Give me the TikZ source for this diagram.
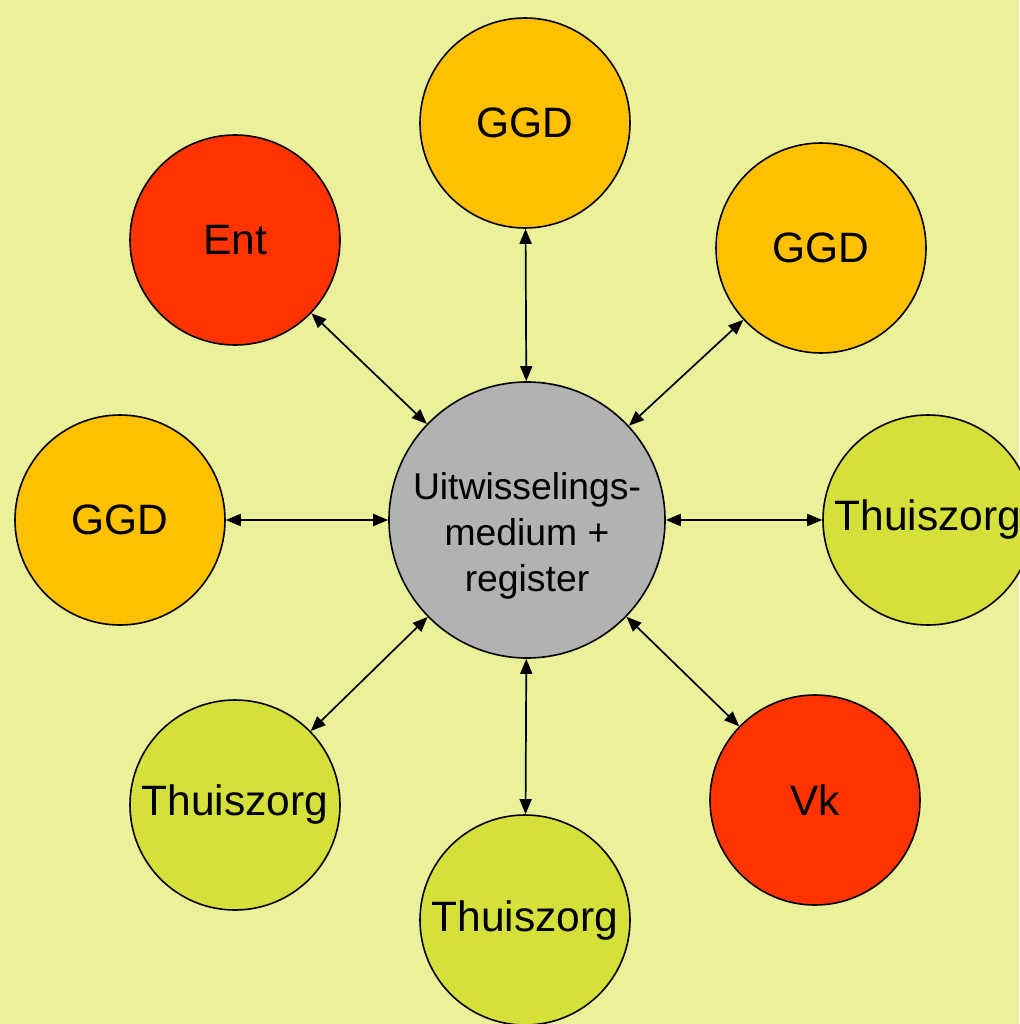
\documentclass[tikz,border=0pt]{standalone}
\usepackage{fontspec}
\setmainfont{Liberation Sans}
\usetikzlibrary{arrows.meta}
\definecolor{bgyellow}{RGB}{235,240,155}
\definecolor{ggdorange}{RGB}{255,192,0}
\definecolor{alertred}{RGB}{255,51,0}
\definecolor{zorggreen}{RGB}{214,224,58}
\definecolor{hubgray}{RGB}{178,178,178}

\begin{document}
\begin{tikzpicture}[x=1pt, y=-1pt,
  party/.style={circle, draw, line width=1.6pt, minimum size=210pt, inner sep=0pt, font=\fontsize{42.5}{46}\selectfont},
  hub/.style={circle, draw, line width=1.6pt, minimum size=276pt, inner sep=0pt, fill=hubgray},
  hubtext/.style={align=center, inner sep=0pt, font=\fontsize{37.3}{46}\selectfont},
  link/.style={line width=1.7pt, {Triangle[length=15pt,width=12pt]}-{Triangle[length=15pt,width=12pt]}}]
\fill[bgyellow] (0,0) rectangle (1019,1024);
\useasboundingbox (0,0) rectangle (1019,1024);
\node[hub] (medium) at (527,520) {};
\node[hubtext] (mediumlabel) at ([yshift=-16pt]medium.center) {Uitwisselings-\\medium +\\register};
\node[party, fill=ggdorange] (ggdtop) at (525,123) {GGD};
\node[party, fill=ggdorange] (ggdright) at (821,248) {GGD};
\node[party, fill=alertred] (ent) at (235,240) {Ent};
\node[party, fill=ggdorange] (ggdleft) at (120,520) {GGD};
\node[party, fill=zorggreen] (zorgright) at (928,520) {Thuiszorg};
\node[party, fill=alertred] (vk) at (815,800) {Vk};
\node[party, fill=zorggreen] (zorgbottom) at (525,920) {Thuiszorg};
\node[party, fill=zorggreen] (zorgleft) at (235,805) {Thuiszorg};
\draw[link] (ggdtop) -- (medium);
\draw[link] (ggdright) -- (medium);
\draw[link] (ent) -- (medium);
\draw[link] (ggdleft) -- (medium);
\draw[link] (zorgright) -- (medium);
\draw[link] (vk) -- (medium);
\draw[link] (zorgbottom) -- (medium);
\draw[link] (zorgleft) -- (medium);
\end{tikzpicture}
\end{document}
